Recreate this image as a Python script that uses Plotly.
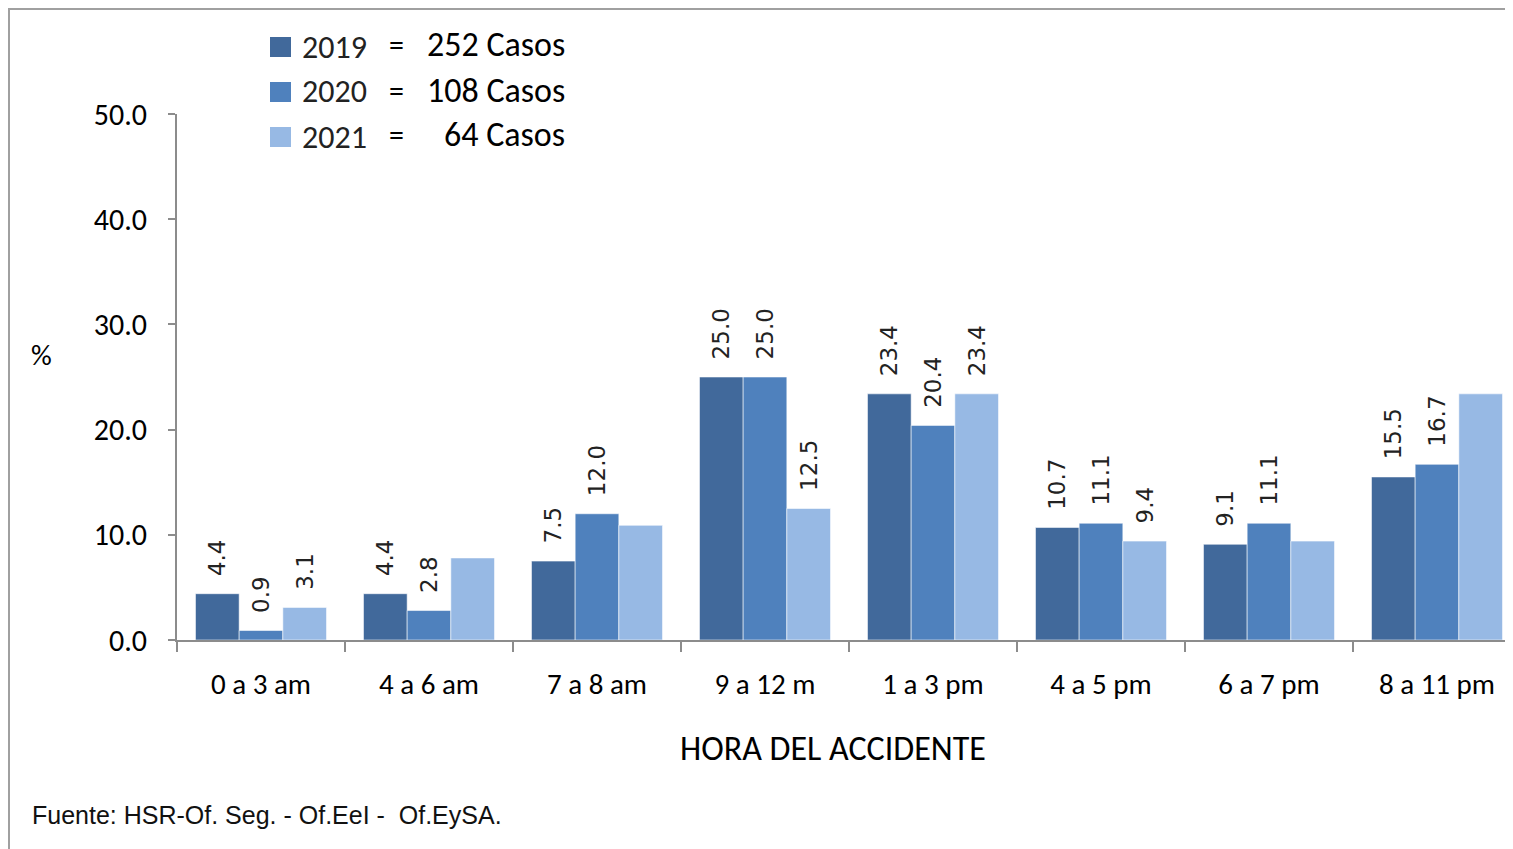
import plotly.graph_objects as go

# data
horas = ["0 a 3 am", "4 a 6 am", "7 a 8 am", "9 a 12 m",
         "1 a 3 pm", "4 a 5 pm", "6 a 7 pm", "8 a 11 pm"]
pct_2019 = [4.4, 4.4, 7.5, 25.0, 23.4, 10.7, 9.1, 15.5]
pct_2020 = [0.9, 2.8, 12.0, 25.0, 20.4, 11.1, 11.1, 16.7]
pct_2021 = [3.1, 7.8, 10.9, 12.5, 23.4, 9.4, 9.4, 23.4]
# the 2021 series only carries a label on some groups
label_2021 = [True, False, False, True, True, True, False, False]

years = ["2019", "2020", "2021"]
casos = ["252 Casos", "108 Casos", "64 Casos"]
colors = ["#41699b", "#4f81bd", "#97b9e4"]

# page body has an 8px margin, so the figure is shifted by OFF
OFF = 8
W, H = 1513 - OFF, 849 - OFF
L, R, T, B = 177 - OFF, 0, 114 - OFF, 209
pw, ph = W - L - R, H - T - B


def px_x(p):
    return (p - OFF - L) / pw


def px_y(q):
    return (H - B - (q - OFF)) / ph


def lbl(v):
    return "\u00a0\u00a0" + f"{v:.1f}"


series = [
    (pct_2019, [lbl(v) for v in pct_2019]),
    (pct_2020, [lbl(v) for v in pct_2020]),
    (pct_2021, [lbl(v) if s else "" for v, s in zip(pct_2021, label_2021)]),
]

fig = go.Figure()
for (vals, txt), name, color in zip(series, years, colors):
    fig.add_trace(
        go.Bar(
            x=horas,
            y=vals,
            name=name,
            text=txt,
            textposition="outside",
            textangle=-90,
            constraintext="none",
            cliponaxis=False,
            textfont=dict(family="DejaVu Sans", size=23, color="#222222"),
            marker=dict(color=color, line=dict(color="rgba(255,255,255,0.55)", width=1)),
            showlegend=False,
        )
    )

axis_col = "#8c8c8c"
main_font = "Carlito, Liberation Sans Narrow, Roboto, sans-serif"

fig.update_layout(
    width=W,
    height=H,
    margin=dict(l=L, r=R, t=T, b=B),
    paper_bgcolor="white",
    plot_bgcolor="white",
    barmode="group",
    bargap=0.22,
    bargroupgap=0,
    font=dict(family=main_font, size=29, color="black"),
    xaxis=dict(
        range=[-0.5, -0.5 + pw / 168],
        showline=True,
        linecolor=axis_col,
        linewidth=2,
        ticks="outside",
        tickson="boundaries",
        ticklen=10,
        tickwidth=2,
        tickcolor=axis_col,
        ticklabelstandoff=17,
        tickfont=dict(size=29),
        showgrid=False,
        zeroline=False,
    ),
    yaxis=dict(
        range=[0, 50],
        tickvals=[0, 10, 20, 30, 40, 50],
        tickformat=".1f",
        showline=True,
        linecolor=axis_col,
        linewidth=2,
        ticks="outside",
        ticklen=7,
        tickwidth=2,
        tickcolor=axis_col,
        ticklabelstandoff=15,
        tickfont=dict(size=30),
        showgrid=False,
        zeroline=False,
    ),
)

# outer frame of the original picture (top and left edges visible)
fig.add_shape(type="rect", xref="paper", yref="paper",
              x0=px_x(9), x1=px_x(1540), y0=px_y(880), y1=px_y(9),
              line=dict(color="#a0a0a0", width=2), fillcolor="rgba(0,0,0,0)", layer="below")

# custom legend: swatch, year, "=", casos
row_y = [47, 92, 137]
for yr, cs, color, ry in zip(years, casos, colors, row_y):
    fig.add_shape(type="rect", xref="paper", yref="paper",
                  x0=px_x(270), x1=px_x(291), y0=px_y(ry + 10), y1=px_y(ry - 10),
                  line=dict(width=0), fillcolor=color)
    fig.add_annotation(x=px_x(300), y=px_y(ry), xref="paper", yref="paper",
                       text=yr, showarrow=False, xanchor="left", yanchor="middle",
                       font=dict(size=32, color="#222222"))
    fig.add_annotation(x=px_x(396), y=px_y(ry - 2), xref="paper", yref="paper",
                       text="=", showarrow=False, xanchor="center", yanchor="middle",
                       font=dict(size=30, color="black"))
    fig.add_annotation(x=px_x(567), y=px_y(ry - 2), xref="paper", yref="paper",
                       text=cs, showarrow=False, xanchor="right", yanchor="middle",
                       font=dict(size=34, color="black"))

fig.add_annotation(x=px_x(41), y=px_y(355), xref="paper", yref="paper",
                   text="%", showarrow=False, xanchor="center", yanchor="middle",
                   font=dict(size=29))
fig.add_annotation(x=px_x(833), y=px_y(748), xref="paper", yref="paper",
                   text="HORA DEL ACCIDENTE", showarrow=False, xanchor="center",
                   yanchor="middle", font=dict(size=34))
fig.add_annotation(x=px_x(30), y=px_y(815), xref="paper", yref="paper",
                   text="Fuente: HSR-Of. Seg. - Of.EeI -  Of.EySA.", showarrow=False,
                   xanchor="left", yanchor="middle",
                   font=dict(family="Liberation Sans", size=25, color="#111111"))

fig.write_html("out.html")
